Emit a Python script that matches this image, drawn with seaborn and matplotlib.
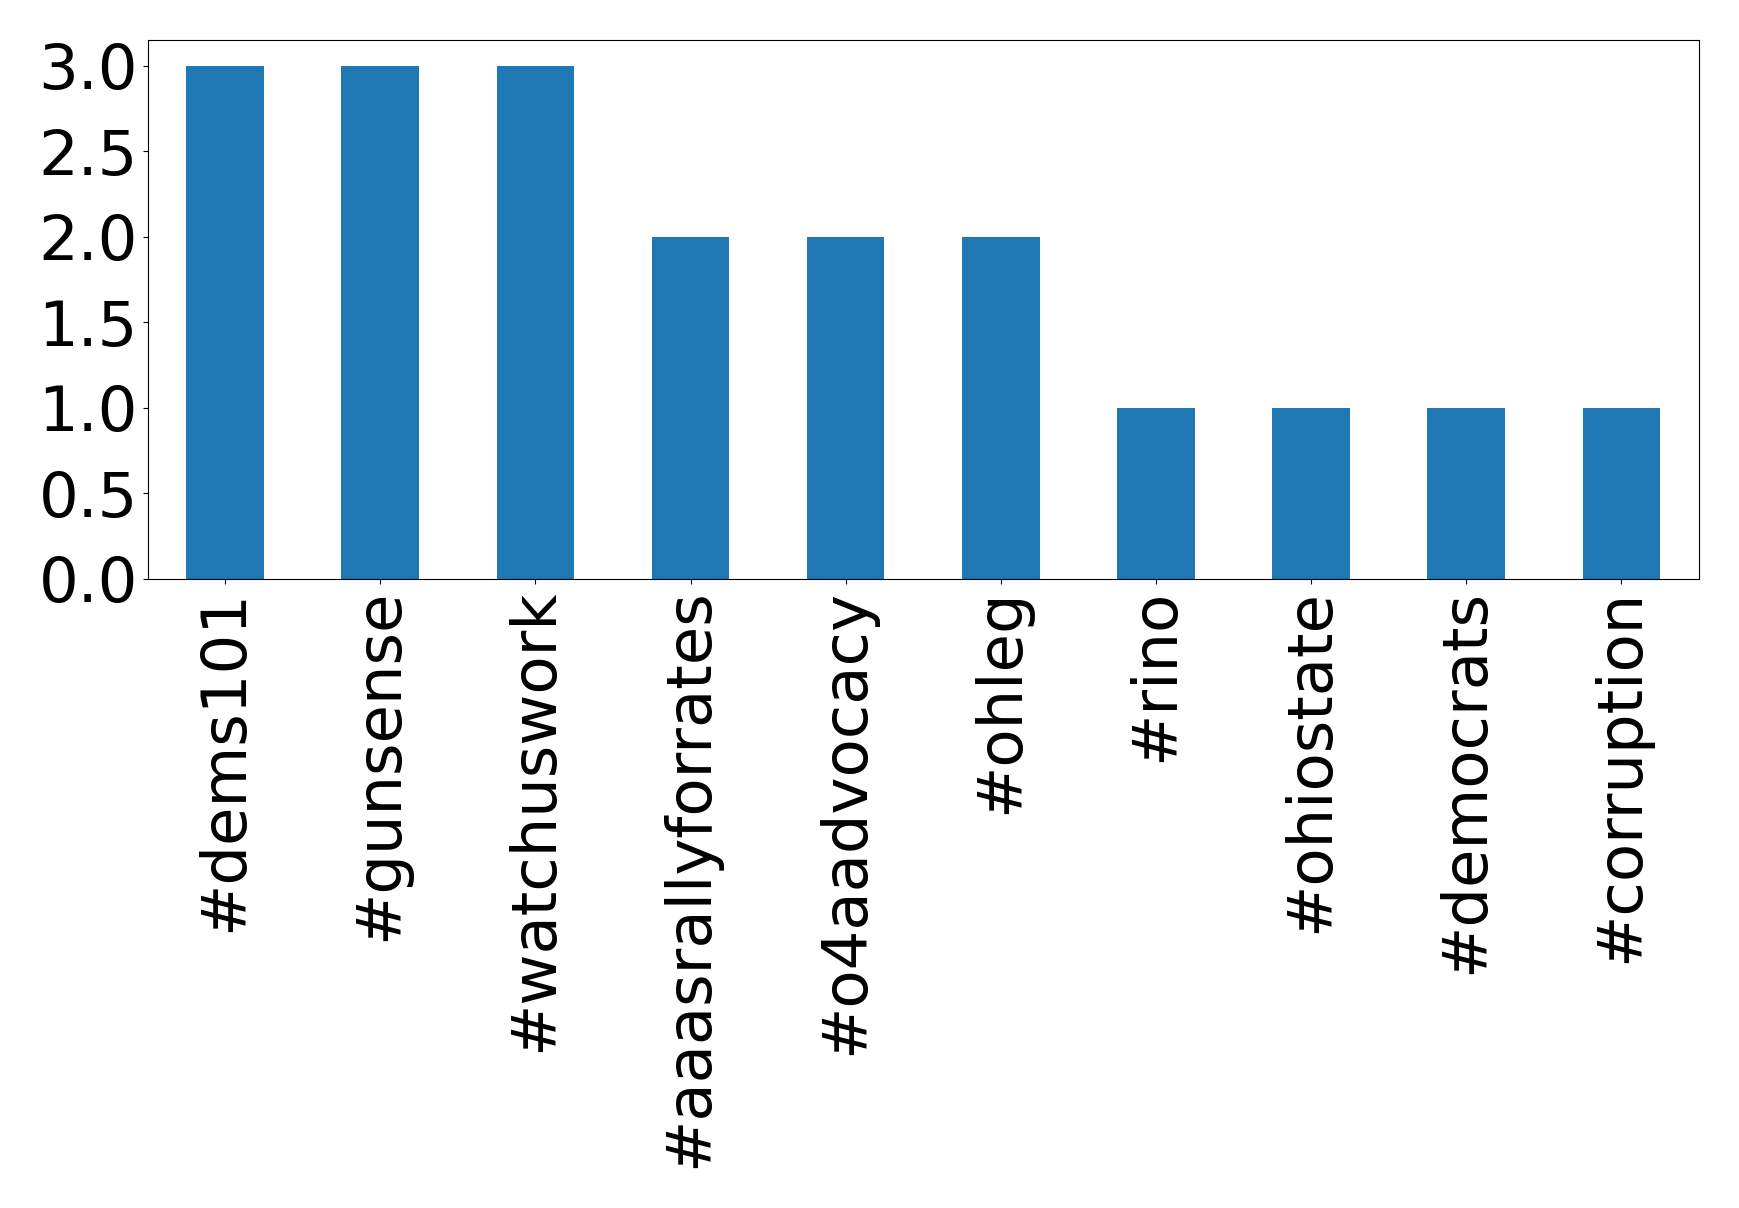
import matplotlib
matplotlib.use("Agg")
import matplotlib.pyplot as plt
import seaborn as sns
import pandas as pd

# hashtag counts
hashtags = ['#dems101', '#gunsense', '#watchuswork', '#aaasrallyforrates',
            '#o4aadvocacy', '#ohleg', '#rino', '#ohiostate', '#democrats',
            '#corruption']
counts = [3, 3, 3, 2, 2, 2, 1, 1, 1, 1]

df = pd.DataFrame({'hashtag': hashtags, 'count': counts})

fig = plt.figure(figsize=(17.39, 12.08), dpi=100)
ax = fig.add_axes([147.5 / 1739, 1 - 579 / 1208, (1699 - 147.5) / 1739, (579 - 40) / 1208])

sns.barplot(data=df, x='hashtag', y='count', color='#1f77b4', saturation=1,
            width=0.5, ax=ax)

ax.set_xlim(-0.5, len(hashtags) - 0.5)
ax.set_ylim(0, 3.15)
ax.set_xlabel('')
ax.set_ylabel('')
ax.tick_params(axis='both', labelsize=45)
plt.setp(ax.get_xticklabels(), rotation=90)
ax.set_yticks([0, 0.5, 1.0, 1.5, 2.0, 2.5, 3.0])
ax.set_yticklabels(['0.0', '0.5', '1.0', '1.5', '2.0', '2.5', '3.0'])

fig.savefig('out.png', dpi=100)
